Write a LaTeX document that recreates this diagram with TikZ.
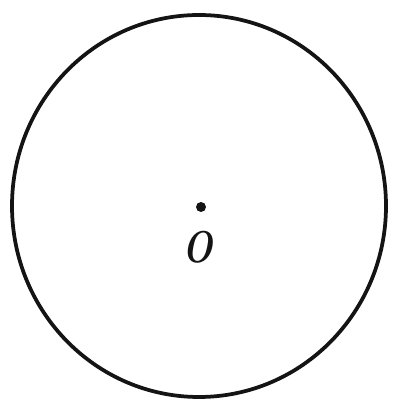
\documentclass[tikz,border=0pt]{standalone}
\usepackage{fontspec}
\usepackage{tikz}
\usetikzlibrary{positioning}
\usepackage{xcolor}
\definecolor{inkblack}{HTML}{141414}
\tikzset{
  rim/.style={draw=inkblack,line width=3.2pt},
  centredot/.style={circle,fill=inkblack,inner sep=0pt,minimum size=0.3cm},
  ptlabel/.style={text=inkblack,inner sep=0pt,font=\fontsize{38}{42}\selectfont\bfseries\itshape}
}
\begin{document}
\begin{tikzpicture}[x=0.03cm,y=0.03cm]
  \useasboundingbox (0,0) rectangle (392,403);
  % the circle
  \draw[rim] (199,197) ellipse [x radius=187,y radius=191];
  % centre and its label
  \node[centredot] (ctr) at (201,196) {};
  \node[ptlabel,xscale=0.8,below=0.55cm of ctr,xshift=-0.12cm] (lblO) {O};
\end{tikzpicture}
\end{document}
